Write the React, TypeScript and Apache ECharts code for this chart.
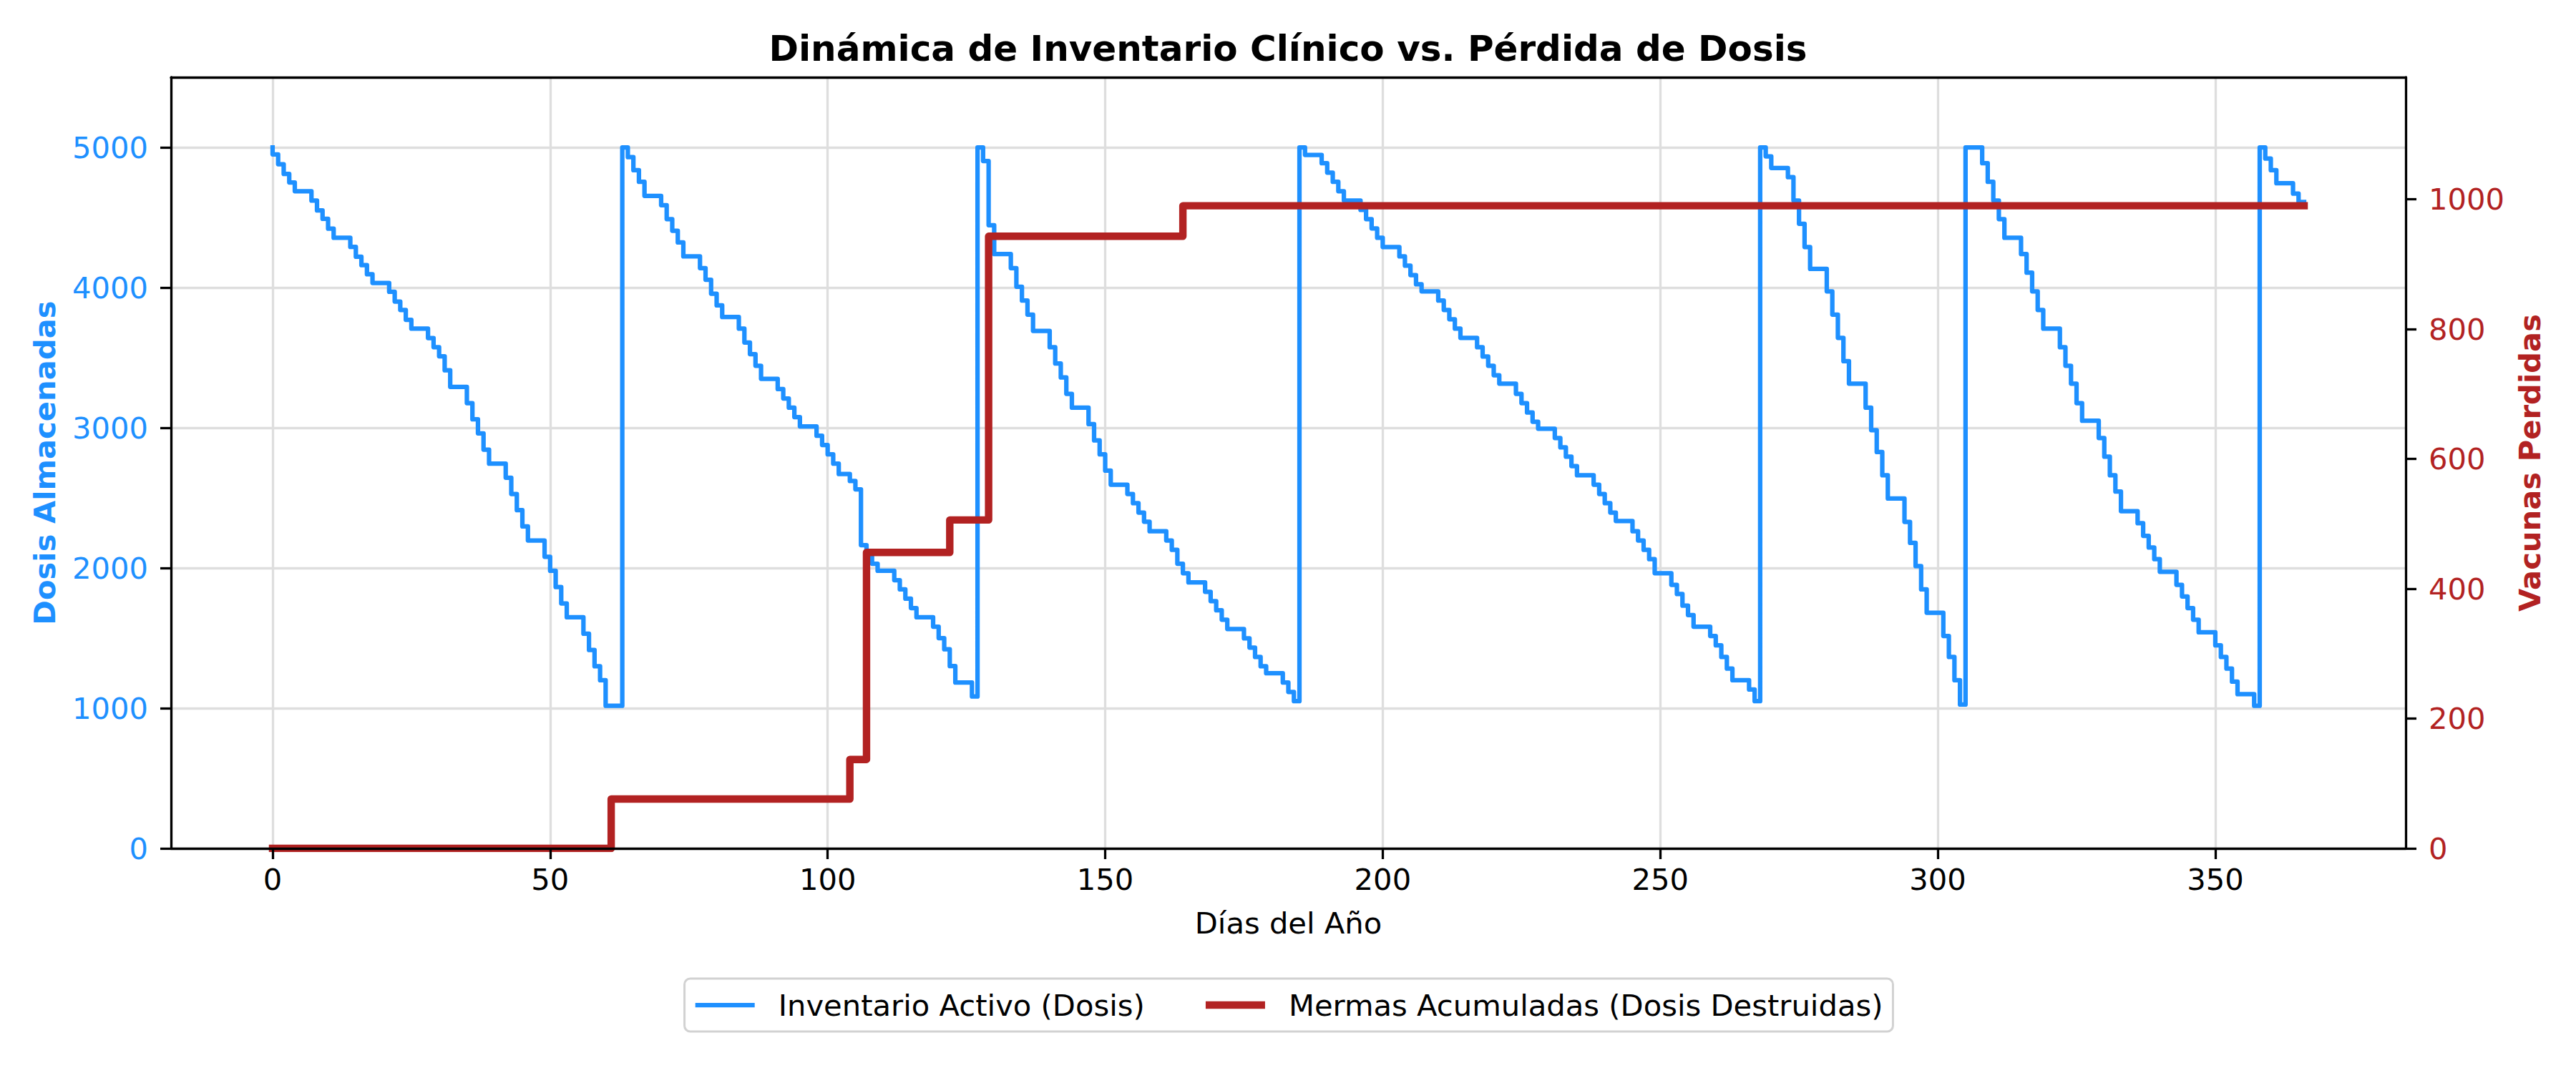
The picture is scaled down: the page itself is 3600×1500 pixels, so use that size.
import React, { useEffect, useRef } from "react";
import * as echarts from "echarts";

// Daily active inventory (doses), day 0 .. 366
const inventoryDoses: number[] = [
  5000,
  4950, 4880, 4810, 4750, 4687, 4687, 4687,
  4620, 4550, 4490, 4420, 4355, 4355, 4355,
  4290, 4220, 4160, 4095, 4033, 4033, 4033,
  3970, 3900, 3840, 3770, 3707, 3707, 3707,
  3640, 3575, 3510, 3410, 3292, 3292, 3292,
  3176, 3060, 2960, 2844, 2744, 2744, 2744,
  2644, 2528, 2412, 2296, 2196, 2196, 2196,
  2080, 1980, 1864, 1747, 1648, 1648, 1648,
  1531, 1415, 1299, 1199, 1017, 1017, 1017,
  5000, 4930, 4837, 4754, 4654, 4654, 4654,
  4588, 4488, 4405, 4322, 4222, 4222, 4222,
  4139, 4056, 3956, 3873, 3790, 3790, 3790,
  3707, 3608, 3525, 3442, 3349, 3349, 3349,
  3276, 3209, 3143, 3076, 3010, 3010, 3010,
  2943, 2877, 2810, 2744, 2670, 2670, 2620,
  2561, 2163, 2080, 2030, 1980, 1980, 1980,
  1913, 1847, 1781, 1714, 1648, 1648, 1648,
  1581, 1500, 1420, 1300, 1183, 1183, 1183,
  1083, 5000, 4903, 4445, 4239, 4239, 4239,
  4139, 4006, 3907, 3807, 3691, 3691, 3691,
  3574, 3458, 3359, 3242, 3143, 3143, 3143,
  3026, 2910, 2810, 2694, 2594, 2594, 2594,
  2528, 2462, 2395, 2330, 2262, 2262, 2262,
  2196, 2129, 2030, 1963, 1897, 1897, 1897,
  1830, 1764, 1698, 1631, 1565, 1565, 1565,
  1498, 1432, 1365, 1299, 1249, 1249, 1249,
  1183, 1116, 1050, 5000, 4946, 4946, 4946,
  4887, 4820, 4754, 4687, 4621, 4621, 4621,
  4554, 4488, 4422, 4355, 4289, 4289, 4289,
  4222, 4156, 4089, 4023, 3973, 3973, 3973,
  3907, 3840, 3774, 3707, 3641, 3641, 3641,
  3574, 3508, 3442, 3375, 3315, 3315, 3315,
  3242, 3176, 3109, 3043, 2993, 2993, 2993,
  2927, 2860, 2794, 2727, 2661, 2661, 2661,
  2594, 2528, 2462, 2395, 2335, 2335, 2335,
  2262, 2196, 2129, 2063, 1963, 1963, 1963,
  1880, 1814, 1731, 1664, 1581, 1581, 1581,
  1515, 1448, 1365, 1282, 1199, 1199, 1199,
  1133, 1050, 5000, 4936, 4853, 4853, 4853,
  4787, 4621, 4455, 4289, 4133, 4133, 4133,
  3973, 3807, 3641, 3475, 3315, 3315, 3315,
  3143, 2983, 2827, 2661, 2495, 2495, 2495,
  2329, 2179, 2013, 1847, 1681, 1681, 1681,
  1515, 1365, 1199, 1026, 5000, 5000, 5000,
  4887, 4754, 4621, 4488, 4355, 4355, 4355,
  4239, 4106, 3973, 3840, 3707, 3707, 3707,
  3574, 3442, 3315, 3176, 3050, 3050, 3050,
  2927, 2794, 2661, 2545, 2405, 2405, 2405,
  2319, 2229, 2146, 2063, 1973, 1973, 1973,
  1880, 1797, 1714, 1631, 1541, 1541, 1541,
  1448, 1365, 1282, 1189, 1100, 1100, 1100,
  1017, 5000, 4920, 4837, 4744, 4744, 4744,
  4670, 4610,
];

// Cumulative wasted doses: change days and totals
const lossDays: number[] = [0, 61, 104, 107, 122, 129, 164, 366];
const lossCumulative: number[] = [0, 76, 137, 456, 506, 943, 990, 990];

const xTicks: number[] = [0, 50, 100, 150, 200, 250, 300, 350];
const leftTicks: number[] = [0, 1000, 2000, 3000, 4000, 5000];
const rightTicks: number[] = [0, 200, 400, 600, 800, 1000];

const TITLE = "Dinámica de Inventario Clínico vs. Pérdida de Dosis";
const X_NAME = "Días del Año";
const Y_LEFT_NAME = "Dosis Almacenadas";
const Y_RIGHT_NAME = "Vacunas Perdidas";
const S_INV = "Inventario Activo (Dosis)";
const S_LOSS = "Mermas Acumuladas (Dosis Destruidas)";

const BLUE = "#1e90ff";
const RED = "#b22222";
const FONT = "'DejaVu Sans', Verdana, sans-serif";
const FS = 41.7;
const GRIDC = "#dedede";
const BLUE_W = 6.25;
const RED_W = 10.4;

export default function App() {
  const ref = useRef<HTMLDivElement>(null);

  useEffect(() => {
    document.body.style.margin = "0";
    if (!ref.current) return;
    const chart = echarts.init(ref.current, null, {
      renderer: "svg",
      width: 3600,
      height: 1500,
    });

    const fmt = (v: number) => String(Math.round(v));

    const option: any = {
      animation: false,
      backgroundColor: "#ffffff",
      textStyle: { fontFamily: FONT },
      title: {
        text: TITLE,
        left: "center",
        top: 38,
        textStyle: {
          fontFamily: FONT,
          fontSize: 50,
          fontWeight: "bold",
          color: "#000",
        },
      },
      legend: {
        left: "center",
        top: 1368,
        orient: "horizontal",
        padding: [13, 14, 13, 12],
        itemGap: 80,
        itemWidth: 83,
        itemHeight: 20,
        borderColor: "#d2d2d2",
        borderWidth: 3,
        borderRadius: 8,
        backgroundColor: "#ffffff",
        itemStyle: { opacity: 0 },
        textStyle: {
          fontFamily: FONT,
          fontSize: FS,
          color: "#000",
          lineHeight: 48,
          padding: [0, 0, 0, 28],
        },
        data: [
          { name: S_INV, lineStyle: { color: BLUE, width: BLUE_W, cap: "butt" } },
          { name: S_LOSS, lineStyle: { color: RED, width: RED_W, cap: "butt" } },
        ],
      },
      grid: {
        left: 239,
        right: 238,
        top: 108,
        bottom: 314,
        containLabel: false,
      },
      xAxis: [
        {
          type: "value",
          min: -18.3,
          max: 384.3,
          position: "bottom",
          z: 5,
          name: X_NAME,
          nameLocation: "middle",
          nameGap: 83,
          nameTextStyle: { fontFamily: FONT, fontSize: FS, color: "#000" },
          axisLine: { show: true, onZero: false, lineStyle: { color: "#000", width: 3.3 } },
          axisTick: {
            show: true,
            inside: false,
            length: 15,
            lineStyle: { color: "#000", width: 3.3 },
            customValues: xTicks,
          },
          axisLabel: {
            show: true,
            margin: 22,
            fontFamily: FONT,
            fontSize: FS,
            color: "#000",
            customValues: xTicks,
            formatter: fmt,
          },
          splitLine: { show: false },
        },
        {
          type: "value",
          min: -18.3,
          max: 384.3,
          position: "top",
          z: 0,
          axisLine: { show: true, onZero: false, lineStyle: { color: "#000", width: 3.3 } },
          axisTick: { show: false, customValues: xTicks },
          axisLabel: { show: false, customValues: xTicks },
          splitLine: { show: true, lineStyle: { color: GRIDC, width: 3.3 } },
        },
      ],
      yAxis: [
        {
          type: "value",
          min: 0,
          max: 5500,
          position: "left",
          name: Y_LEFT_NAME,
          nameLocation: "middle",
          nameGap: 156,
          nameTextStyle: {
            fontFamily: FONT,
            fontSize: FS,
            fontWeight: "bold",
            color: BLUE,
          },
          axisLine: { show: true, onZero: false, lineStyle: { color: "#000", width: 3.3 } },
          axisTick: {
            show: true,
            inside: false,
            length: 15,
            lineStyle: { color: "#000", width: 3.3 },
            customValues: leftTicks,
          },
          axisLabel: {
            show: true,
            margin: 32,
            fontFamily: FONT,
            fontSize: FS,
            color: BLUE,
            customValues: leftTicks,
            formatter: fmt,
          },
          splitLine: { show: true, lineStyle: { color: GRIDC, width: 3.3 } },
        },
        {
          type: "value",
          min: 0,
          max: 1188,
          position: "right",
          name: Y_RIGHT_NAME,
          nameLocation: "middle",
          nameGap: 152,
          nameTextStyle: {
            fontFamily: FONT,
            fontSize: FS,
            fontWeight: "bold",
            color: RED,
          },
          axisLine: { show: true, onZero: false, lineStyle: { color: "#000", width: 3.3 } },
          axisTick: {
            show: true,
            inside: false,
            length: 15,
            lineStyle: { color: "#000", width: 3.3 },
            customValues: rightTicks,
          },
          axisLabel: {
            show: true,
            margin: 32,
            fontFamily: FONT,
            fontSize: FS,
            color: RED,
            customValues: rightTicks,
            formatter: fmt,
          },
          splitLine: { show: false },
        },
      ],
      series: [
        {
          type: "line",
          name: S_INV,
          xAxisIndex: 0,
          yAxisIndex: 0,
          data: inventoryDoses.map((v, i) => [i, v]),
          step: "start",
          symbol: "none",
          showSymbol: false,
          z: 2,
          itemStyle: { color: BLUE },
          lineStyle: { color: BLUE, width: BLUE_W, cap: "square", join: "round" },
        },
        {
          type: "line",
          name: S_LOSS,
          xAxisIndex: 0,
          yAxisIndex: 1,
          data: lossDays.map((d, i) => [d, lossCumulative[i]]),
          step: "end",
          symbol: "none",
          showSymbol: false,
          z: 3,
          itemStyle: { color: RED },
          lineStyle: { color: RED, width: RED_W, cap: "square", join: "round" },
        },
      ],
    };

    chart.setOption(option);
    return () => chart.dispose();
  }, []);

  return <div ref={ref} style={{ width: 3600, height: 1500 }} />;
}
